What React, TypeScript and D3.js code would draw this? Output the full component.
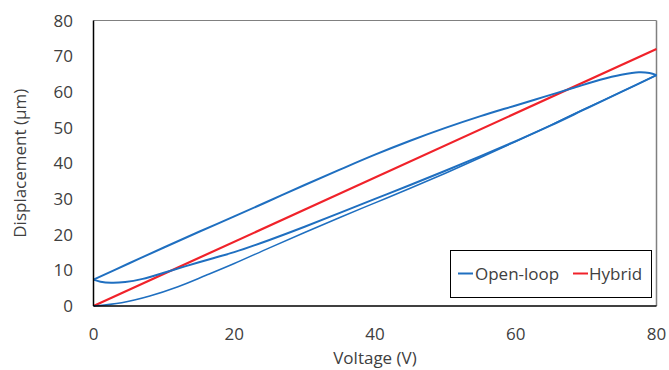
import React from "react";
import * as d3 from "d3";

// open-loop: first rise from rest
const rise1V = [0, 4, 8, 12, 16, 20, 25, 30, 35, 40, 45, 50, 55, 60, 65, 70, 75, 80];
const rise1D = [0, 0.9, 2.8, 5.4, 8.6, 11.9, 16.3, 20.6, 24.8, 28.9, 33.0, 37.2, 41.6, 46.1, 50.7, 55.4, 60.0, 64.7];

// open-loop: falling branch
const fallV = [80, 79, 77.5, 75, 72, 68, 64, 60, 55, 50, 45, 40, 35, 30, 25, 20, 15, 10, 5, 0];
const fallD = [64.7, 65.3, 65.5, 64.8, 63.4, 61.0, 58.6, 56.2, 53.2, 49.9, 46.3, 42.4, 38.2, 33.9, 29.5, 25.1, 20.8, 16.4, 11.9, 7.4];

// open-loop: second rise
const rise2V = [0, 1, 2.5, 4.5, 7, 10, 13, 17, 20, 25, 30, 35, 40, 45, 50, 55, 60, 65, 70, 75, 80];
const rise2D = [7.4, 6.8, 6.5, 6.7, 7.6, 9.3, 11.1, 13.4, 15.1, 18.5, 22.2, 26.1, 30.0, 33.9, 37.9, 42.0, 46.2, 50.6, 55.3, 60.0, 64.7];

const hybridV = [0, 80];
const hybridD = [0, 72];

const xTicks = [0, 20, 40, 60, 80];
const yTicks = [0, 10, 20, 30, 40, 50, 60, 70, 80];

const BLUE = "#1f6fc0";
const RED = "#f0222a";
const TEXT = "#404040";
const FONT = "'Open Sans', sans-serif";

const W = 669;
const H = 370;
const left = 93.5;
const right = 656.5;
const top = 20.5;
const bottom = 306;

export default function App() {
  const x = d3.scaleLinear().domain([0, 80]).range([left, right]);
  const y = d3.scaleLinear().domain([0, 80]).range([bottom, top]);

  const line = d3
    .line<[number, number]>()
    .x((d) => x(d[0]))
    .y((d) => y(d[1]))
    .curve(d3.curveCatmullRom.alpha(0.5));

  const pts = (vs: number[], ds: number[]) =>
    vs.map((v, i) => [v, ds[i]] as [number, number]);

  const cy = (top + bottom) / 2;

  return (
    <svg
      width={W}
      height={H}
      style={{ position: "absolute", left: 0, top: 0, background: "#fff" }}
      fontFamily={FONT}
    >
      {/* frame */}
      <line x1={left} x2={right} y1={top} y2={top} stroke="#808080" strokeWidth={1} />
      <line x1={right} x2={right} y1={top} y2={bottom} stroke="#808080" strokeWidth={1.5} />

      {/* series */}
      <path d={line(pts(hybridV, hybridD)) ?? ""} fill="none" stroke={RED} strokeWidth={2.2} />
      <path d={line(pts(rise1V, rise1D)) ?? ""} fill="none" stroke={BLUE} strokeWidth={1.5} />
      <path d={line(pts(fallV, fallD)) ?? ""} fill="none" stroke={BLUE} strokeWidth={2} />
      <path d={line(pts(rise2V, rise2D)) ?? ""} fill="none" stroke={BLUE} strokeWidth={2} />

      {/* axes */}
      <line x1={left} x2={left} y1={top} y2={bottom} stroke="#000" strokeWidth={1.5} />
      <line x1={left} x2={right} y1={bottom} y2={bottom} stroke="#000" strokeWidth={1.5} />

      {yTicks.map((t) => (
        <text key={"y" + t} x={73} y={y(t)} dy="0.36em" textAnchor="end" fontSize={17} fill={TEXT}>
          {t}
        </text>
      ))}
      {xTicks.map((t) => (
        <text key={"x" + t} x={x(t)} y={334} dy="0.36em" textAnchor="middle" fontSize={17} fill={TEXT}>
          {t}
        </text>
      ))}

      <text x={(left + right) / 2} y={358} dy="0.36em" textAnchor="middle" fontSize={17} fill={TEXT}>
        Voltage (V)
      </text>
      <text
        transform={`translate(20,${cy}) rotate(-90)`}
        textAnchor="middle"
        dy="0.36em"
        fontSize={17}
        fill={TEXT}
      >
        Displacement (μm)
      </text>

      {/* legend */}
      <rect x={450.5} y={250.5} width={201} height={47} fill="#fff" stroke="#000" strokeWidth={1} />
      <line x1={458} x2={473} y1={273.5} y2={273.5} stroke={BLUE} strokeWidth={2} />
      <text x={475} y={273.5} dy="0.36em" fontSize={17} fill={TEXT}>
        Open-loop
      </text>
      <line x1={573} x2={588} y1={273.5} y2={273.5} stroke={RED} strokeWidth={2} />
      <text x={589} y={273.5} dy="0.36em" fontSize={17} fill={TEXT}>
        Hybrid
      </text>
    </svg>
  );
}
